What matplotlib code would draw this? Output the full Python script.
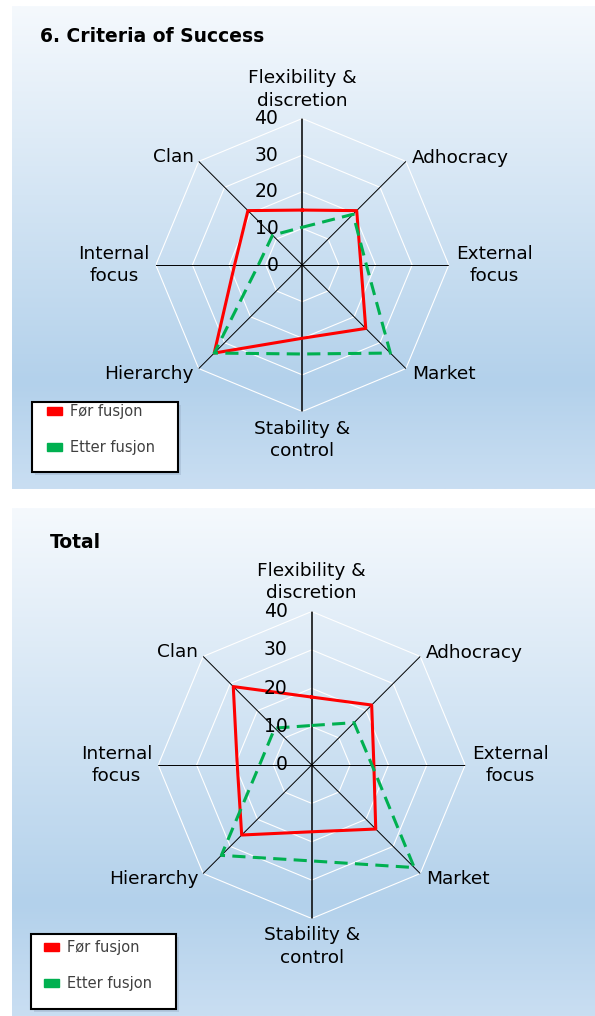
import numpy as np
import matplotlib.pyplot as plt
from matplotlib.colors import LinearSegmentedColormap
from matplotlib.patches import Rectangle, Patch

categories = ["Flexibility &\ndiscretion", "Adhocracy", "External\nfocus", "Market",
              "Stability &\ncontrol", "Hierarchy", "Internal\nfocus", "Clan"]
r_ticks = [0, 10, 20, 30, 40]
series_names = ["Før fusjon", "Etter fusjon"]

# values in category order (clockwise from top)
criteria_before = [15, 21, 16, 24.5, 20, 34, 18.5, 21]
criteria_after = [10.3, 19.6, 17.5, 34, 24.3, 34, 12, 11.5]
total_before = [17.7, 22.1, 16.2, 23.6, 17.4, 25.8, 19.4, 28.9]
total_after = [10.3, 15.6, 15.7, 37.8, 25.0, 33.3, 13.6, 13.6]

W, H = 595, 1016
fig = plt.figure(figsize=(W / 100, H / 100), dpi=100)

bg_cmap = LinearSegmentedColormap.from_list(
    'bg', [(0, '#f5f9fd'), (0.78, '#b3d1eb'), (1, '#c9def2')])

# (dx, dy, ha, va) in pixels from the end of each spoke
label_pos = [(0, 9, 'center', 'bottom'), (6, 3, 'left', 'center'), (7, 0, 'left', 'center'),
             (6, -5, 'left', 'center'), (0, -8, 'center', 'top'), (-5, -5, 'right', 'center'),
             (-6, 0, 'right', 'center'), (-5, 4, 'right', 'center')]


def px_box(x0, y0, x1, y1):
    return [x0 / W, 1 - y1 / H, (x1 - x0) / W, (y1 - y0) / H]


def radar_panel(top, bottom, cx, cy, R, title, title_xy, before, after, box, leg_xy):
    bg = fig.add_axes(px_box(12, top, W, bottom), zorder=0)
    bg.imshow(np.linspace(0, 1, 256)[:, None], aspect='auto', cmap=bg_cmap,
              extent=[0, 1, 0, 1])
    bg.axis('off')

    fig.text(title_xy[0] / W, 1 - title_xy[1] / H, title, fontsize=13.5,
             fontweight='bold', va='center', zorder=5)

    ax = fig.add_axes(px_box(cx - R, cy - R, cx + R, cy + R), projection='polar', zorder=2)
    ax.set_theta_offset(np.pi / 2)
    ax.set_theta_direction(-1)
    ax.axis('off')
    ax.patch.set_visible(False)

    theta = np.linspace(0, 2 * np.pi, len(categories), endpoint=False)
    closed = np.append(theta, theta[0])
    for t in r_ticks[1:]:
        ax.plot(closed, [t] * len(closed), color='white', lw=0.8, zorder=1)
    for i, th in enumerate(theta):
        ax.plot([th, th], [0, r_ticks[-1]], color='black', lw=1.1 if i % 4 == 0 else 0.7, zorder=2)

    ax.plot(closed, np.append(before, before[0]), color='#ff0000', lw=2.2, zorder=3)
    ax.plot(closed, np.append(after, after[0]), color='#00b050', lw=2.2,
            dashes=(4.3, 2.4), zorder=3)
    ax.set_ylim(0, r_ticks[-1])

    for t in r_ticks:
        ax.annotate(str(t), xy=(0, t), xytext=(-24, 0), textcoords='offset pixels',
                    ha='right', va='center', fontsize=13.5, zorder=4)
    for th, lab, (dx, dy, ha, va) in zip(theta, categories, label_pos):
        ax.annotate(lab, xy=(th, r_ticks[-1]), xytext=(dx, dy), textcoords='offset pixels',
                    ha=ha, va=va, multialignment='center', fontsize=13.3,
                    linespacing=1.3, annotation_clip=False)

    # legend frame with soft shadow
    x0, y0, x1, y1 = box
    fig.add_artist(Rectangle(((x0 + 3) / W, 1 - (y1 + 3) / H), (x1 - x0) / W, (y1 - y0) / H,
                             transform=fig.transFigure, facecolor='#9fb4cc', alpha=0.5,
                             edgecolor='none', zorder=5))
    fig.add_artist(Rectangle((x0 / W, 1 - y1 / H), (x1 - x0) / W, (y1 - y0) / H,
                             transform=fig.transFigure, facecolor='white',
                             edgecolor='black', lw=1.5, zorder=6))
    handles = [Patch(color='#ff0000', label=series_names[0]),
               Patch(color='#00b050', label=series_names[1])]
    leg = fig.legend(handles=handles, loc='upper left',
                     bbox_to_anchor=(leg_xy[0] / W, 1 - leg_xy[1] / H),
                     frameon=False, fontsize=10.5, handlelength=1.03, handleheight=0.5,
                     labelspacing=1.45, handletextpad=0.55, borderpad=0, borderaxespad=0)
    leg.set_zorder(7)
    for txt in leg.get_texts():
        txt.set_color('#404040')


radar_panel(6, 489, 302.3, 265, 146.5, "6. Criteria of Success", (40, 37),
            criteria_before, criteria_after, (32, 402, 178, 472), (47, 404))
radar_panel(508, 1016, 311.7, 765, 153.5, "Total", (50, 542),
            total_before, total_after, (31, 934, 176, 1009), (44, 940))

fig.savefig('out.png', dpi=100)
